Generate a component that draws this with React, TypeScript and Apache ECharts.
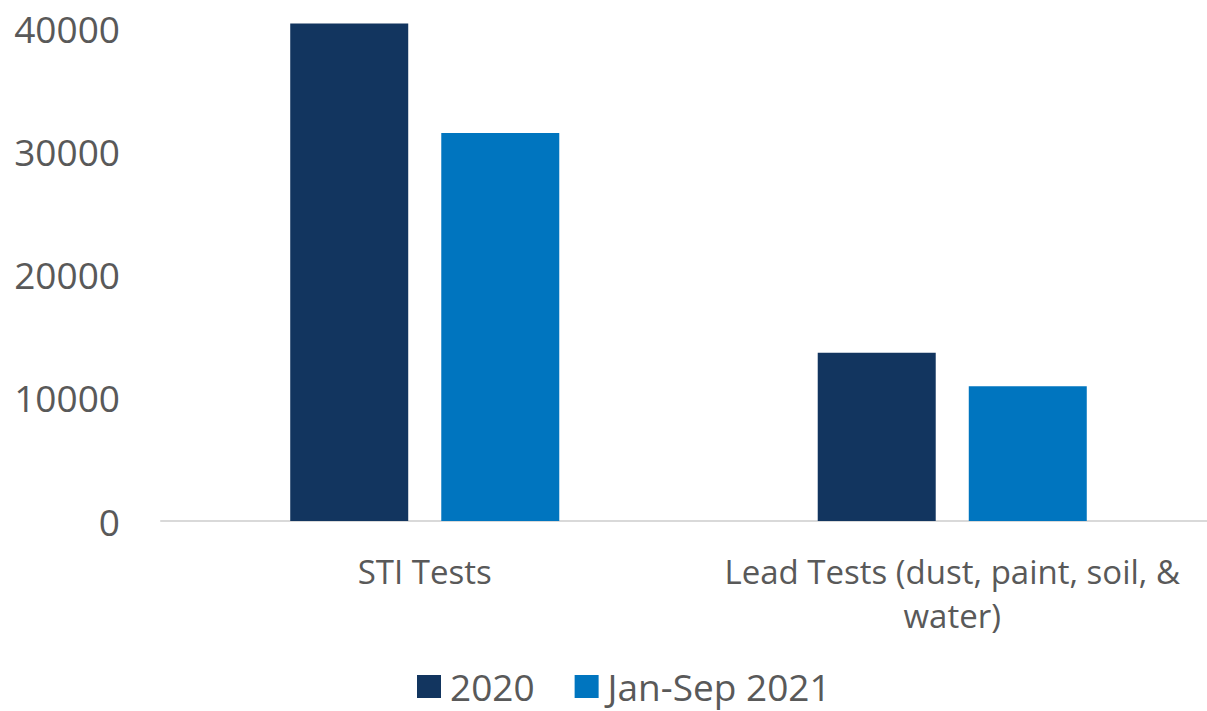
import React, { useEffect, useRef } from "react";
import * as echarts from "echarts";

const categories = ["STI Tests", "Lead Tests (dust, paint, soil, & water)"];
const seriesNames = ["2020", "Jan-Sep 2021"];
const values2020 = [40400, 13650];
const values2021 = [31500, 10950];
const colors = ["#12355f", "#0075bf"];

export default function App() {
  const ref = useRef<HTMLDivElement>(null);
  useEffect(() => {
    const chart = echarts.init(ref.current!, null, { renderer: "svg" });
    const font = "'Open Sans', Calibri, sans-serif";
    chart.setOption({
      animation: false,
      textStyle: { fontFamily: font },
      legend: {
        top: 668,
        left: 417,
        itemWidth: 24,
        itemHeight: 23,
        itemGap: 40,
        icon: "rect",
        padding: 0,
        textStyle: {
          fontSize: 37,
          lineHeight: 34,
          color: "#595959",
          fontFamily: font,
          padding: [0, 0, 0, 4],
        },
        data: seriesNames,
      },
      grid: { left: 161, top: 16, width: 1055, height: 505 },
      xAxis: {
        type: "category",
        data: categories,
        axisLine: { lineStyle: { color: "#d9d9d9", width: 2 } },
        axisTick: { show: false },
        axisLabel: {
          fontSize: 33,
          color: "#595959",
          fontFamily: font,
          margin: 28,
          lineHeight: 44,
          interval: 0,
          formatter: (v: string) => v.replace("& ", "&\n"),
        },
      },
      yAxis: {
        type: "value",
        min: 0,
        max: 41000,
        interval: 10000,
        splitLine: { show: false },
        axisLine: { show: false },
        axisTick: { show: false },
        axisLabel: {
          fontSize: 37,
          color: "#595959",
          fontFamily: font,
          margin: 41,
          showMaxLabel: false,
          formatter: (v: number) => (v % 10000 === 0 ? String(v) : ""),
        },
      },
      series: [
        {
          name: seriesNames[0],
          type: "bar",
          data: values2020,
          barWidth: 118,
          barGap: "28%",
          itemStyle: { color: colors[0] },
        },
        {
          name: seriesNames[1],
          type: "bar",
          data: values2021,
          barWidth: 118,
          itemStyle: { color: colors[1] },
        },
      ],
    });
    return () => chart.dispose();
  }, []);
  return (
    <div style={{ width: 1207, height: 711, position: "absolute", left: 0, top: 0, overflow: "hidden" }}>
      <div ref={ref} style={{ width: 1222, height: 711 }} />
    </div>
  );
}
